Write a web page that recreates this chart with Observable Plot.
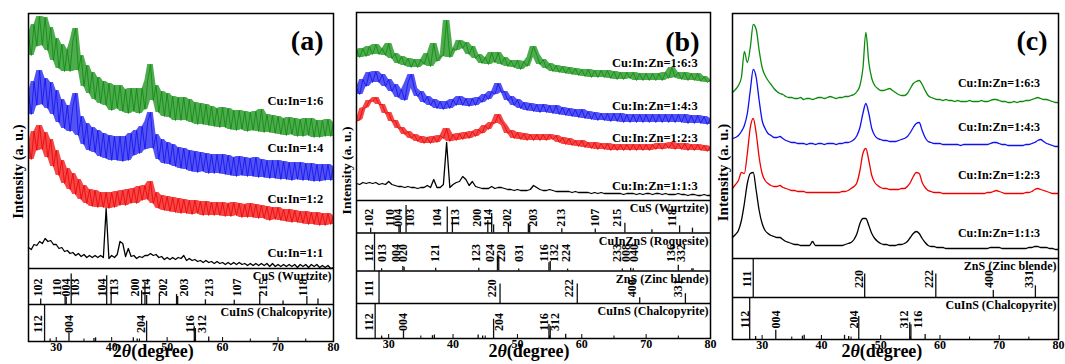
<!DOCTYPE html>
<html><head><meta charset="utf-8">
<script src="https://cdn.jsdelivr.net/npm/d3@7"></script>
<script src="https://cdn.jsdelivr.net/npm/@observablehq/plot@0.6"></script>
<style>
body{margin:0;background:#fff;}
#wrap{position:relative;width:1065px;height:364px;overflow:hidden;background:#fff;}
</style></head><body><div id="wrap"></div>
<script>
// 2θ sampling grid (degrees): 25, 25.5, ... 80
const twoTheta = d3.range(0, 111).map(i => 25 + i * 0.5);

// ---------- Panel (a) intensities (a.u.) ----------
const a_1_6 = [
 234,213,244,222,252,223,251,218,241,208,
 230,200,224,197,219,197,228,240,198,213,
 182,203,175,196,169,191,165,187,163,185,
 158,183,160,183,157,179,155,180,157,180,
 155,180,159,188,204,168,183,156,177,152,
 175,151,172,148,171,148,171,148,169,146,
 166,144,165,144,164,143,162,142,160,141,
 161,141,160,139,158,138,158,139,157,137,
 156,138,157,137,159,136,154,136,153,135,
 152,134,150,133,151,134,150,132,149,132,
 150,133,150,131,148,131,148,132,149,132,
 146];
const a_1_4 = [
 176,154,187,163,198,164,190,160,186,154,
 178,146,169,140,163,137,162,175,133,152,
 124,145,118,141,116,138,112,135,110,133,
 108,132,108,132,107,132,108,135,113,138,
 115,142,119,147,156,120,134,109,129,105,
 126,104,124,102,121,100,120,99,118,97,
 117,96,116,97,115,95,114,95,114,95,
 114,94,113,93,111,92,112,93,111,92,
 110,92,111,91,109,91,108,90,108,90,
 108,89,107,89,106,88,106,89,106,88,
 105,88,105,87,104,87,104,88,104,88,
 102];
const a_1_2 = [
 125,109,137,118,143,119,136,111,129,102,
 118,93,108,85,100,79,95,74,89,69,
 83,65,79,62,78,61,76,61,76,60,
 76,61,77,63,78,63,79,65,80,65,
 82,68,83,69,87,65,76,60,73,58,
 72,57,71,56,70,55,69,55,68,54,
 68,55,67,53,67,53,66,53,66,53,
 66,52,65,52,66,53,65,51,64,51,
 65,51,64,50,63,50,62,48,61,49,
 61,48,59,47,59,46,58,46,57,45,
 57,44,56,44,56,43,55,43,55,44,
 53];
const a_1_1 = [
 21,19,24,23,27,25,30,27,28,24,
 24,20,21,17,18,15,16,13,15,12,
 14,11,13,11,13,11,13,11,60,10,
 13,11,14,27,25,12,20,12,13,10,
 12,11,13,13,15,13,14,11,12,9,
 11,9,11,9,11,10,13,8,10,8,
 9,7,8,6,8,6,7,5,7,5,
 6,4,6,4,6,4,6,4,5,3,
 5,3,5,3,5,3,5,2,5,2,
 4,2,4,2,4,2,4,1,4,2,
 4,1,4,2,4,1,3,1,3,0,
 1];

// ---------- Panel (b) ----------
const b_1_6_3 = [
 151,143,152,144,154,146,156,146,152,145,
 157,142,147,137,144,135,142,133,141,133,
 141,136,147,134,157,139,144,145,180,143,
 152,150,160,152,158,146,154,142,146,137,
 143,136,148,138,148,136,143,134,140,133,
 140,131,139,134,143,154,146,136,141,132,
 137,129,135,128,134,127,133,126,132,125,
 131,124,131,123,130,123,130,123,130,122,
 129,121,128,121,128,122,128,120,127,120,
 127,120,127,120,127,120,128,122,133,123,
 128,121,128,120,127,120,127,119,124,118,
 121];
const b_1_4_3 = [
 113,106,121,114,128,118,129,118,126,114,
 121,109,116,103,111,100,118,126,112,104,
 109,98,104,95,101,92,99,91,99,92,
 101,95,104,95,102,94,102,95,103,98,
 106,101,109,106,117,108,109,100,104,95,
 101,92,98,90,97,89,96,88,96,88,
 95,87,95,86,93,85,92,84,91,83,
 91,82,89,81,88,80,87,80,87,79,
 87,79,87,78,86,78,86,78,86,78,
 86,78,86,78,86,78,86,78,86,78,
 86,78,86,77,85,77,85,77,84,76,
 82];
const b_1_2_3 = [
 79,81,92,93,100,99,103,96,96,87,
 88,79,80,72,73,66,69,62,66,59,
 64,57,63,57,64,58,65,62,72,59,
 66,60,67,61,68,62,69,64,71,67,
 75,71,78,77,86,79,75,67,70,62,
 68,61,67,60,66,60,66,60,66,60,
 66,61,65,58,63,56,62,55,60,54,
 60,53,58,52,58,51,57,51,57,50,
 56,50,56,50,56,50,56,50,56,50,
 56,50,56,51,57,51,57,52,58,51,
 57,51,57,50,56,50,56,50,55,49,
 54];
const b_1_1_3 = [
 17,16,18,17,18,17,18,16,17,16,
 19,16,15,14,14,13,14,13,13,12,
 13,13,15,13,21,13,13,16,58,13,
 16,18,19,24,21,15,19,14,13,12,
 12,12,14,12,13,13,12,11,11,10,
 11,10,10,10,11,15,13,11,10,10,
 11,10,9,9,9,9,9,8,9,8,
 8,8,8,7,8,7,8,7,7,7,
 7,7,7,6,7,7,7,6,7,6,
 7,7,6,7,7,6,7,6,6,6,
 7,6,6,5,6,6,5,5,6,5,
 5];

// ---------- Panel (c) ----------
const c_1_6_3 = [
 166,169,173,181,207,196,211,234,229,208,
 191,183,178,174,170,167,165,164,162,161,
 161,160,160,161,159,160,160,159,160,161,
 161,160,161,162,161,160,161,161,162,162,
 163,164,167,173,190,226,196,180,173,170,
 168,168,169,170,168,166,164,163,163,165,
 170,175,177,178,174,168,163,161,160,159,
 159,158,159,158,158,157,158,157,157,157,
 158,157,157,157,158,157,157,158,159,159,
 158,157,157,156,156,157,156,157,157,158,
 158,159,160,161,160,159,159,158,157,156,
 156];
const c_1_4_3 = [
 120,121,123,127,133,145,168,189,181,158,
 138,130,125,123,121,121,122,120,118,117,
 116,116,115,115,115,114,115,115,114,115,
 115,114,115,115,115,114,115,115,116,116,
 117,119,123,131,145,155,145,130,123,120,
 119,118,118,117,117,117,118,119,120,122,
 126,131,135,136,128,121,117,116,115,115,
 115,114,114,114,114,114,114,113,114,114,
 114,114,114,114,114,114,114,115,116,116,
 115,114,114,113,113,113,113,113,113,114,
 114,115,116,118,119,117,115,114,113,112,
 112];
const c_1_2_3 = [
 70,74,78,86,85,105,131,140,125,101,
 85,78,75,73,72,72,73,71,70,69,
 68,68,67,67,67,66,66,66,66,66,
 66,66,66,66,66,66,66,67,67,68,
 70,72,76,88,105,110,98,83,76,73,
 71,70,70,69,69,69,69,70,70,72,
 76,82,86,85,76,71,68,67,66,66,
 66,65,65,65,65,65,65,65,65,65,
 65,65,65,65,65,65,66,66,67,68,
 67,66,65,65,65,65,65,65,65,66,
 66,67,69,70,69,68,67,66,65,65,
 65];
const c_1_1_3 = [
 21,24,28,38,55,75,85,86,68,48,
 35,28,25,23,22,21,21,19,17,16,
 15,14,14,13,13,13,13,17,13,13,
 13,13,13,13,13,13,13,13,14,15,
 16,19,25,35,40,40,33,25,20,17,
 15,14,14,13,13,13,14,14,15,17,
 21,25,27,25,20,16,13,12,12,11,
 11,11,10,10,10,10,10,10,10,10,
 10,10,10,10,10,10,10,11,11,11,
 11,10,10,10,10,10,10,10,10,10,
 11,11,12,12,11,11,11,10,10,9,
 9];

// ---------- Reference patterns: peak 2θ and relative intensity ----------
const cusPos = [27.2,31.6,31.8,32.7,39.1,39.9,45.4,46.0,46.3,48.6,51.7,51.9,56.9,62.1,66.7,70.9,75.2,77.2];
const cusRel = [0.15,0.25,0.2,0.85,0.8,0.43,0.38,0.6,0.25,0.3,0.28,0.22,0.13,0.12,0.3,0.1,0.22,0.15];
const cusHkl = ["102","110","004","103","104","113","200","114","202","203","213","107","215","118"];
const cusHklAtA = [26.7,30.2,31.8,33.5,38.3,40.4,44.3,46.3,49.3,53.1,57.5,62.6,67.4,74.6];
const cusHklAtB = [26.9,30.3,31.5,33.3,37.6,40.3,43.7,45.4,48.4,52.5,56.8,62.1,65.5,74.0];

const cuinsPos = [27.9,28.9,32.3,36.8,37.1,43.9,44.6,46.3,54.9,55.1,57.5];
const cuinsRel = [1.0,0.07,0.22,0.08,0.1,0.1,0.07,0.55,0.4,0.35,0.12];
const cuinsHkl = ["112","004","204","116","312"];
const cuinsHklAtA = [26.7,32.3,45.3,54.2,56.3];
const cuinsHklAtB = [26.9,32.3,47.1,54.2,55.9];
const cuinsHklC = ["112","004","204","312","116"];
const cuinsHklAtC = [27.2,32.4,45.5,53.9,56.3];

const znsPos = [28.5,47.3,59.3,69.0,76.1];
const znsRel = [1.0,0.6,0.6,0.18,0.3];
const znsHkl = ["111","220","222","400","331"];
const znsHklAtB = [26.9,46.1,58.1,67.9,75.0];
const znsHklAtC = [27.5,46.3,58.2,68.3,75.1];

const roqPos = [27.8,28.9,32.2,32.4,37.3,44.0,46.9,47.1,50.2,54.9,55.1,57.8,66.3,67.6,68.0,75.0,77.1,77.3];
const roqRel = [1.0,0.06,0.12,0.1,0.07,0.07,0.4,0.4,0.05,0.22,0.25,0.05,0.05,0.07,0.06,0.15,0.06,0.06];
const roqHkl = ["112","013","004","020","121","123","024","220","031","116","132","224","233","008","040","136","332"];
const roqHklAt = [26.9,29.0,31.1,32.3,37.2,43.6,45.8,47.5,50.2,54.1,55.7,57.6,65.5,66.9,68.2,73.9,75.5];

const xTicks = [30,40,50,60,70,80];
const minorTicks = [30,35,40,45,50,55,60,65,70,75];

const GREEN = "#0b8a0b", BLUE = "#1010f0", RED = "#f00000", BLACK = "#000";

// ---------- layout (positions/styles) ----------
const panels = [
 { left: 0, width: 345, mt: 13, mr: 12, mb: 23, ml: 28, yDomain: [-73, 255],
   series: [[a_1_1, BLACK, "Cu:In=1:1", 16], [a_1_2, RED, "Cu:In=1:2", 70], [a_1_4, BLUE, "Cu:In=1:4", 121], [a_1_6, GREEN, "Cu:In=1:6", 168]],
   labelX: 78.15, labelSize: 12.5, lineW: 0.8, noisy: true,
   strips: [
     {top: 0, bottom: -36, name: "CuS (Wurtzite)", pos: cusPos, rel: cusRel, hkl: cusHkl, at: cusHklAtA},
     {top: -36, bottom: -73, name: "CuInS (Chalcopyrite)", pos: cuinsPos, rel: cuinsRel, hkl: cuinsHkl, at: cuinsHklAtA}],
   letter: "(a)", letterDx: -10, letterDy: 17, ylab: {y: 97, dx: -10, size: 14.5}, xtitle: {x: 47.5, dy: 15}},
 { left: 330, width: 385, mt: 12, mr: 5, mb: 26, ml: 26, yDomain: [-138, 188],
   series: [[b_1_1_3, BLACK, "Cu:In:Zn=1:1:3", 15], [b_1_2_3, RED, "Cu:In:Zn=1:2:3", 63], [b_1_4_3, BLUE, "Cu:In:Zn=1:4:3", 95], [b_1_6_3, GREEN, "Cu:In:Zn=1:6:3", 138]],
   labelX: 78.0, labelSize: 12.5, lineW: 0.8, noisy: true,
   strips: [
     {top: 0, bottom: -32.5, name: "CuS (Wurtzite)", pos: cusPos, rel: cusRel, hkl: cusHkl, at: cusHklAtB},
     {top: -32.5, bottom: -70.5, name: "CuInZnS (Roquesite)", pos: roqPos, rel: roqRel, hkl: roqHkl, at: roqHklAt},
     {top: -70.5, bottom: -103, name: "ZnS (Zinc blende)", pos: znsPos, rel: znsRel, hkl: znsHkl, at: znsHklAtB},
     {top: -103, bottom: -138, name: "CuInS (Chalcopyrite)", pos: cuinsPos, rel: cuinsRel, hkl: cuinsHkl, at: cuinsHklAtB}],
   letter: "(b)", letterDx: -11, letterDy: 19, ylab: {y: 30, dx: -10, size: 13.5}, xtitle: {x: 51.8, dy: 18}},
 { left: 712, width: 353, mt: 13, mr: 7, mb: 25, ml: 20, yDomain: [-81, 245],
   series: [[c_1_1_3, BLACK, "Cu:In:Zn=1:1:3", 25], [c_1_2_3, RED, "Cu:In:Zn=1:2:3", 83], [c_1_4_3, BLUE, "Cu:In:Zn=1:4:3", 131], [c_1_6_3, GREEN, "Cu:In:Zn=1:6:3", 175]],
   labelX: 76.9, labelSize: 12, lineW: 1.3, smooth: true,
   strips: [
     {top: 0, bottom: -39, name: "ZnS (Zinc blende)", pos: znsPos, rel: znsRel, hkl: znsHkl, at: znsHklAtC},
     {top: -39, bottom: -81, name: "CuInS (Chalcopyrite)", pos: cuinsPos, rel: cuinsRel, hkl: cuinsHklC, at: cuinsHklAtC}],
   letter: "(c)", letterDx: -11, letterDy: 17, ylab: {y: 86, dx: -9, size: 15}, xtitle: {x: 50.2, dy: 17}}
];

const wrap = document.getElementById("wrap");
const bold = {fontWeight: "bold"};

for (const p of panels) {
  const ymin = p.yDomain[0];
  const marks = [];
  // reference strips
  for (const s of p.strips) {
    const sticks = s.pos.map((t, i) => ({t, r: s.rel[i]}));
    marks.push(Plot.ruleX(sticks, {x: "t", y1: () => s.bottom, y2: d => s.bottom + d.r * (s.top - s.bottom), stroke: "#111", strokeWidth: 1.3}));
    const labs = s.hkl.map((h, i) => ({h, t: s.at[i]}));
    marks.push(Plot.text(labs, {x: "t", y: () => (s.top + s.bottom) / 2, text: "h", rotate: -90, dy: 1, fontSize: 12, ...bold}));
    marks.push(Plot.text([s.name], {x: () => 80, y: () => s.top, text: d => d, textAnchor: "end", dx: -2, dy: 8, fontSize: 12, ...bold}));
  }
  marks.push(Plot.ruleY(p.strips.map(s => s.top), {stroke: "#000", strokeWidth: 1.5}));
  // bottom tick marks
  marks.push(Plot.ruleX(minorTicks, {x: d => d, y1: () => ymin, y2: d => ymin + (d % 10 === 0 ? 4 : 2.5), stroke: "#000", strokeWidth: 1}));
  // spectra
  for (const [vals, color] of p.series) {
    if (vals.length !== twoTheta.length) console.error("length mismatch", vals.length);
    const noisyBand = p.noisy && color !== BLACK;
    if (noisyBand) {
      // envelope of the measured noise (neighbouring samples)
      const lo = vals.map((v, i) => Math.min(v, vals[Math.max(0, i - 1)], vals[Math.min(vals.length - 1, i + 1)]));
      const hi = vals.map((v, i) => Math.max(v, vals[Math.max(0, i - 1)], vals[Math.min(vals.length - 1, i + 1)]));
      marks.push(Plot.areaY(twoTheta, {x: d => d, y1: (d, i) => lo[i], y2: (d, i) => hi[i], fill: color, fillOpacity: 0.72}));
    }
    marks.push(Plot.line(twoTheta, {x: d => d, y: (d, i) => vals[i], stroke: color, strokeWidth: noisyBand ? p.lineW : (p.noisy ? 1.3 : p.lineW), curve: p.smooth ? "monotone-x" : "linear"}));
  }
  // series labels
  for (const [vals, color, name, ly] of p.series) {
    marks.push(Plot.text([name], {x: () => p.labelX, y: () => ly, text: d => d, textAnchor: "end", fontSize: p.labelSize, ...bold}));
  }
  marks.push(Plot.frame({stroke: "#000", strokeWidth: 1.5}));
  marks.push(Plot.axisX({ticks: xTicks, tickSize: 0, tickPadding: 1, fontSize: 12, label: null, ...bold}));
  marks.push(Plot.text([p.letter], {frameAnchor: "top-right", text: d => d, textAnchor: "end", dx: p.letterDx, dy: p.letterDy, fontSize: 28, ...bold}));
  marks.push(Plot.text(["Intensity (a. u.)"], {x: () => 25, y: () => p.ylab.y, text: d => d, rotate: -90, dx: p.ylab.dx, fontSize: p.ylab.size, ...bold}));
  marks.push(Plot.text(["2θ(degree)"], {x: () => p.xtitle.x, frameAnchor: "bottom", text: d => d, dy: p.xtitle.dy, fontSize: 18, ...bold}));

  const svg = Plot.plot({
    width: p.width, height: 364,
    marginTop: p.mt, marginRight: p.mr, marginBottom: p.mb, marginLeft: p.ml,
    x: {domain: [25, 80]},
    y: {domain: p.yDomain, axis: null},
    style: {fontFamily: "'Liberation Serif','Times New Roman',serif", background: "transparent", overflow: "visible", position: "absolute", left: p.left + "px", top: "0px", color: "#000"},
    marks
  });
  svg.querySelectorAll("text").forEach(t => {
    if (t.textContent === "2θ(degree)") t.innerHTML = '2<tspan font-style="italic">θ</tspan>(degree)';
  });
  wrap.appendChild(svg);
}
</script></body></html>
